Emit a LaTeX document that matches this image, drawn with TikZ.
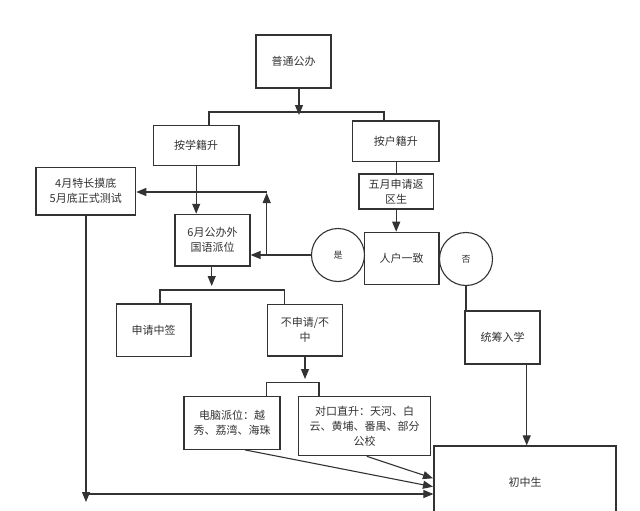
\documentclass[tikz,border=0pt]{standalone}
\usepackage{fontspec}
\newfontfamily\cjk{Noto Sans CJK SC}
\usetikzlibrary{arrows.meta}
\definecolor{ink}{HTML}{333333}
\begin{document}
\begin{tikzpicture}[x=1pt,y=-1pt,
  box/.style={draw=ink, line width=1.2pt, rectangle, inner sep=0pt, align=center, text=ink,
              font=\cjk\fontsize{11}{15}\selectfont},
  circ/.style={draw=ink, line width=1.1pt, circle, minimum size=53pt, inner sep=0pt, text=ink,
              font=\cjk\fontsize{9}{12}\selectfont},
  ln/.style={draw=ink, line width=1.1pt},
  arr/.style={ln, -{Triangle[length=10pt,width=8pt]}}]
\useasboundingbox (0,0) rectangle (640,511);
\clip (0,0) rectangle (640,511);
\fill[white] (0,0) rectangle (640,511);

% nodes
\node[box, minimum width=75pt, minimum height=53pt] (top) at (293.5,61.5) {普通公办};
\node[box, minimum width=85.7pt, minimum height=40pt] (xue) at (196.2,145.7) {按学籍升};
\node[box, minimum width=86.3pt, minimum height=40.7pt] (hu) at (395.8,141.3) {按户籍升};
\node[box, minimum width=74.3pt, minimum height=35pt] (wuyue) at (396.2,191.5) {五月申请返\\区生};
\node[box, minimum width=74.7pt, minimum height=52pt] (renhu) at (401.7,258.3) {人户一致};
\node[circ] (shi) at (338,255) {是};
\node[circ] (fou) at (466,259) {否};
\node[box, minimum width=75pt, minimum height=53pt] (tongchou) at (502.5,337.5) {统筹入学};
\node[box, minimum width=182pt, minimum height=72pt] (chuzhong) at (525,482) {初中生};
\node[box, minimum width=99.7pt, minimum height=47.7pt] (siyue) at (85.8,191.2) {4月特长摸底\\5月底正式测试};
\node[box, minimum width=75pt, minimum height=51.7pt] (liuyue) at (212.5,240.2) {6月公办外\\国语派位};
\node[box, minimum width=74.5pt, minimum height=52.7pt] (zhongqian) at (153.7,330.3) {申请中签};
\node[box, minimum width=74.6pt, minimum height=51.7pt] (bushen) at (305,330.2) {不申请/不\\中};
\node[box, minimum width=96pt, minimum height=52.6pt] (diannao) at (232,423) {电脑派位：越\\秀、荔湾、海珠};
\node[box, minimum width=131.6pt, minimum height=59pt] (duikou) at (364.5,426.2) {对口直升：天河、白\\云、黄埔、番禺、部分\\公校};

% helper coordinates
\coordinate (b1) at (299,115);
\coordinate (b1l) at (209,112);
\coordinate (b1r) at (384,112);
\coordinate (b2) at (211.7,286);
\coordinate (b2l) at (160,290);
\coordinate (b2r) at (284.3,290);
\coordinate (b3) at (305,379);
\coordinate (b3l) at (266.7,382.7);
\coordinate (b3r) at (319,382.7);
\coordinate (upb) at (266.7,254.5);
\coordinate (upt) at (266.7,193);
\coordinate (hl) at (266.7,192);
\coordinate (sb) at (86,502);
\coordinate (hb) at (86,494);
\coordinate (dn) at (245,449.3);
\coordinate (dk) at (366.7,455.7);
\coordinate (cz1) at (433,486.7);
\coordinate (cz2) at (433,478.3);

% connectors
\draw[arr] (top.south -| b1) -- (b1);
\draw[ln] (xue.north -| b1l) -- (b1l) -- (b1r) -- (hu.north -| b1r);
\draw[ln] (hu.south -| wuyue.north) -- (wuyue.north);
\draw[arr] (wuyue.south) -- (wuyue.south |- renhu.north);
\draw[arr] (xue.south) -- (xue.south |- liuyue.north);
\draw[arr] (shi.west) -- (shi.west -| liuyue.east);
\draw[arr] (upb) -- (upt);
\draw[arr] (hl) -- (hl -| siyue.east);
\draw[arr] (siyue.south -| sb) -- (sb);
\draw[arr] (hb) -- (hb -| chuzhong.west);
\draw[arr] (liuyue.south -| b2) -- (b2);
\draw[ln] (zhongqian.north -| b2l) -- (b2l) -- (b2r) -- (bushen.north -| b2r);
\draw[arr] (bushen.south -| b3) -- (b3);
\draw[ln] (diannao.north -| b3l) -- (b3l) -- (b3r) -- (duikou.north -| b3r);
\draw[arr] (diannao.south -| dn) -- (cz1);
\draw[arr] (duikou.south -| dk) -- (cz2);
\draw[ln] (fou.south) -- (fou.south |- tongchou.north);
\coordinate (tc) at (526.7,364);
\draw[arr] (tongchou.south -| tc) -- (tc |- chuzhong.north);
\end{tikzpicture}
\end{document}
